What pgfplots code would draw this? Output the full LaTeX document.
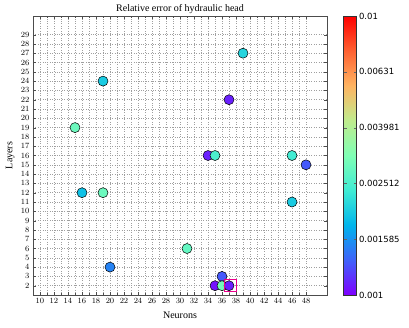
\documentclass[border=0pt]{standalone}
\usepackage{fontspec}
\setmainfont{Liberation Serif}
\newfontfamily\ticksans{DejaVu Sans}
\usepackage{pgfplots}
\pgfplotsset{compat=1.18}

% errors per network size: neurons, layers, relative error
\pgfplotstableread{
n  l  err
19 24 0.0020
15 19 0.0029
39 27 0.0021
37 22 0.0011
34 16 0.0011
35 16 0.0025
46 16 0.0024
48 15 0.0013
16 12 0.0019
19 12 0.0029
20 4  0.0015
31 6  0.0028
46 11 0.0020
36 3  0.0013
35 2  0.00105
36 2  0.0030
37 2  0.0011
}\errtab

\pgfplotsset{
  colormap={mplrainbow}{
    rgb=(0.5,0,1) rgb=(0.25,0.383,0.981) rgb=(0,0.707,0.924)
    rgb=(0.25,0.924,0.831) rgb=(0.5,1,0.707) rgb=(0.75,0.924,0.556)
    rgb=(1,0.707,0.383) rgb=(1,0.383,0.195) rgb=(1,0,0)}
}

\begin{document}
\begin{tikzpicture}
\path[use as bounding box] (-33pt,-32pt) rectangle (376pt,295pt);
\begin{axis}[
  scale only axis,width=294pt,height=279pt,
  xmin=9,xmax=51,ymin=1,ymax=31,
  xtick={10,12,...,48},minor x tick num=1,
  ytick={2,3,...,29},
  tick align=inside,
  ticklabel style={font=\ticksans\fontsize{8}{9}\selectfont},
  xtick pos=both,ytick pos=both,
  xticklabel pos=bottom,yticklabel pos=left,
  major tick length=3pt,minor tick length=2pt,
  grid=both,
  major grid style={dotted,line width=0.5pt,gray!75},
  minor grid style={dotted,line width=0.5pt,gray!75},
  axis line style={black!70},
  tick style={black!70},
  title={Relative error of hydraulic head},
  title style={font=\fontsize{10}{11}\selectfont,at={(0.5,1)},anchor=south,yshift=-5pt,inner sep=1.5pt},
  xlabel={Neurons},ylabel={Layers},
  label style={font=\fontsize{10}{11}\selectfont},
  xlabel style={at={(axis description cs:0.5,-0.072)},anchor=center},
  ylabel style={at={(axis description cs:-0.078,0.5)},anchor=center},
  colormap name=mplrainbow,
  point meta min=-3,point meta max=-2,
  colorbar,
  colorbar style={
    at={(parent axis.north east)},anchor=north west,xshift=8pt,
    width=13pt,
    ytick={-3,-2.8,-2.6,-2.4,-2.2,-2},
    yticklabels={0.001,0.001585,0.002512,0.003981,0.00631,0.01},
    yticklabel style={font=\ticksans\fontsize{8.5}{9}\selectfont,xshift=-1pt},
    tick align=inside,major tick length=3pt,
    axis line style={black!80},tick style={black!60},
  },
]
\addplot[scatter,only marks,mark=*,mark size=5pt,
  scatter/use mapped color={draw=black,fill=mapped color},
  mark options={line width=0.5pt},
  point meta={ln(\thisrow{err})/ln(10)}]
  table[x=n,y=l] {\errtab};
\addplot[only marks,mark=square,mark size=6pt,draw=magenta,line width=0.6pt,forget plot]
  coordinates {(37.2,2)};
\end{axis}
\end{tikzpicture}
\end{document}
